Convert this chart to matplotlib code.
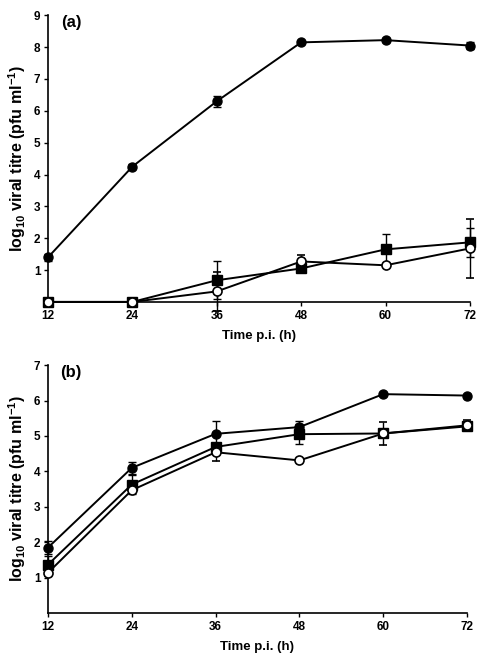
import matplotlib
matplotlib.use("Agg")
import matplotlib.pyplot as plt

plt.rcParams['font.family'] = ['Liberation Sans', 'DejaVu Sans']
plt.rcParams['font.weight'] = 'bold'
plt.rcParams['mathtext.fontset'] = 'custom'
plt.rcParams['mathtext.rm'] = 'Liberation Sans:bold'
plt.rcParams['mathtext.bf'] = 'Liberation Sans:bold'
plt.rcParams['mathtext.default'] = 'bf'

times = [12, 24, 36, 48, 60, 72]

# Panel (a)
a_fcirc = [1.40, 4.25, 6.30, 8.15, 8.22, 8.05]
a_fcirc_err = [0.10, 0.08, 0.18, 0.05, 0.07, 0.10]
a_fsq = [0.00, 0.00, 0.68, 1.05, 1.65, 1.87]
a_fsq_err = [0.00, 0.00, 0.60, 0.05, 0.47, 0.45]
a_ocirc = [0.00, 0.00, 0.33, 1.27, 1.15, 1.68]
a_ocirc_err = [0.00, 0.00, 0.60, 0.20, 0.05, 0.93]

# Panel (b)
b_fcirc = [1.85, 4.10, 5.06, 5.25, 6.18, 6.14]
b_fcirc_err = [0.18, 0.16, 0.35, 0.16, 0.04, 0.04]
b_fsq = [1.37, 3.63, 4.69, 5.05, 5.07, 5.27]
b_fsq_err = [0.25, 0.26, 0.10, 0.29, 0.10, 0.10]
b_ocirc = [1.14, 3.47, 4.54, 4.31, 5.07, 5.30]
b_ocirc_err = [0.08, 0.06, 0.26, 0.05, 0.33, 0.15]

fig = plt.figure(figsize=(4.9, 6.65), dpi=100)
ax_a = fig.add_axes([0.098, 0.546, 0.861, 0.431])
ax_b = fig.add_axes([0.098, 0.078, 0.855, 0.373])

def draw(ax, fc, fce, fs, fse, oc, oce):
    kw = dict(color='black', lw=1.4, ecolor='black', elinewidth=1.0,
              capsize=3, capthick=1.0, clip_on=False, zorder=3)
    ax.errorbar(times, fs, yerr=fse, marker='s', ms=6.5, mfc='black', mec='black', **kw)
    ax.errorbar(times, oc, yerr=oce, marker='o', ms=6.5, mfc='white', mec='black', mew=1.2, **kw)
    ax.errorbar(times, fc, yerr=fce, marker='o', ms=6.5, mfc='black', mec='black', **kw)
    for s in ['top', 'right']:
        ax.spines[s].set_visible(False)
    for s in ['left', 'bottom']:
        ax.spines[s].set_linewidth(1.2)
    ax.set_xlim(12, 72)
    ax.set_xticks(times)
    ax.tick_params(axis='both', direction='out', length=3, width=1.0, labelsize=8.5, pad=2.5)
    for lab in ax.get_xticklabels() + ax.get_yticklabels():
        lab.set_fontweight('bold')
    ax.set_xlabel('Time p.i. (h)', fontsize=9.5, fontweight='bold', labelpad=6)
    ax.set_ylabel(r'log$_{10}$ viral titre (pfu ml$^{-1}$)', fontsize=11.5, fontweight='bold', labelpad=4)

draw(ax_a, a_fcirc, a_fcirc_err, a_fsq, a_fsq_err, a_ocirc, a_ocirc_err)
ax_a.set_ylim(0, 9)
ax_a.set_yticks(range(1, 10))
draw(ax_b, b_fcirc, b_fcirc_err, b_fsq, b_fsq_err, b_ocirc, b_ocirc_err)
ax_b.set_ylim(0, 7)
ax_b.set_yticks(range(1, 8))

ax_a.text(0.03, 1.0, '(a)', transform=ax_a.transAxes, fontsize=12, fontweight='bold', va='top')
ax_b.text(0.03, 1.0, '(b)', transform=ax_b.transAxes, fontsize=12, fontweight='bold', va='top')

fig.savefig('out.png', dpi=100)
